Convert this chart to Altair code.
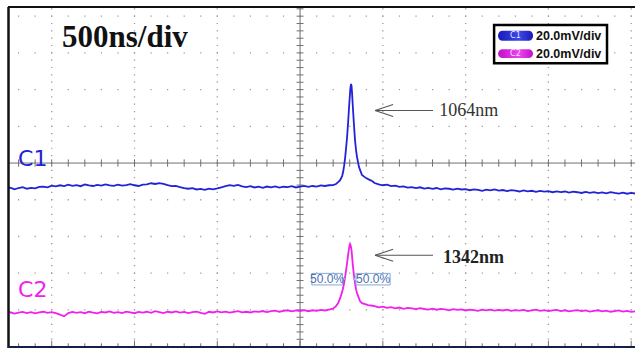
import altair as alt
import pandas as pd
import numpy as np

# ---------------- data (time in ns, signal in mV) ----------------
T_LEFT = list(range(-1775, 200, 25))     # 79 samples
T_RIGHT = list(range(450, 2050, 25))     # 64 samples

c1_left = [-13.9, -13.4, -14.3, -13.6, -13.1, -14.0, -13.5, -13.8, -13.0, -12.8,
           -13.2, -12.3, -12.7, -12.1, -12.6, -11.8, -12.4, -12.0, -12.6, -11.7,
           -12.2, -12.5, -11.9, -12.3, -11.6, -12.2, -12.4, -11.8, -12.3, -12.0,
           -11.5, -12.1, -12.5, -11.8, -11.6, -11.0, -11.4, -10.9, -11.3, -12.0,
           -12.6, -12.4, -13.1, -13.6, -14.0, -13.7, -14.4, -14.1, -14.6, -13.9,
           -14.3, -13.8, -13.2, -12.6, -12.0, -12.4, -11.9, -12.7, -13.1, -12.6,
           -13.3, -12.9, -13.5, -12.8, -13.2, -12.7, -13.4, -12.9, -13.1, -12.6,
           -13.3, -12.8, -12.4, -13.0, -12.5, -12.8, -12.2, -12.5, -12.1]
c1_peak_t = [199, 217, 230, 242, 254, 260, 266, 272, 278, 284, 290, 296, 302, 305, 308,
             311, 314, 320, 326, 332, 338, 344, 350, 356, 365, 374, 387, 399, 417, 435]
c1_peak_v = [-12.0, -11.4, -10.4, -9.3, -7.1, -4.9, -1.6, 2.7, 8.2, 14.2, 21.8, 30.5,
             38.2, 41.4, 43.1, 42.0, 38.2, 28.9, 20.2, 12.5, 7.1, 3.3, 0.5, -2.2, -4.4,
             -6.5, -7.4, -8.2, -9.0, -9.8]
c1_right = [-10.9, -11.6, -12.1, -11.8, -12.6, -12.3, -13.0, -12.7, -13.4, -13.1,
            -13.6, -13.2, -13.9, -13.5, -14.1, -13.6, -14.3, -13.8, -14.0, -14.5,
            -13.9, -14.4, -14.2, -14.8, -14.3, -14.6, -15.1, -14.5, -14.9, -14.4,
            -15.0, -14.7, -15.3, -14.8, -15.0, -15.5, -14.9, -15.4, -15.1, -15.7,
            -15.2, -15.6, -15.3, -15.9, -15.4, -15.8, -15.5, -16.1, -15.6, -15.9,
            -16.3, -15.7, -16.2, -15.8, -16.4, -16.0, -16.5, -15.9, -16.3, -16.6,
            -16.1, -16.7, -16.3, -16.6]

c2_left = [-12.6, -12.1, -12.8, -12.3, -11.9, -12.5, -12.0, -12.7, -12.2, -11.8,
           -12.4, -12.0, -12.6, -13.4, -14.3, -12.5, -11.9, -12.4, -12.0, -12.6,
           -11.8, -12.3, -12.7, -11.9, -12.2, -11.6, -12.4, -12.0, -12.5, -11.7,
           -12.1, -12.6, -11.9, -12.3, -11.8, -12.4, -11.5, -12.0, -12.5, -11.8,
           -12.2, -11.6, -12.3, -11.9, -12.5, -12.0, -11.7, -12.4, -12.9, -11.8,
           -12.2, -11.6, -12.1, -11.7, -12.3, -11.9, -11.5, -12.1, -11.8, -12.2,
           -11.6, -11.9, -11.4, -12.0, -11.5, -11.2, -11.8, -11.3, -11.0, -11.6,
           -11.1, -11.4, -10.9, -11.5, -11.0, -11.3, -10.8, -11.1, -10.6]
c2_peak_t = [199, 217, 230, 242, 254, 260, 266, 272, 278, 284, 290, 296, 299, 302, 305,
             311, 314, 320, 326, 332, 338, 344, 353, 362, 374, 393, 411, 429]
c2_peak_v = [-10.1, -8.7, -7.1, -4.4, -1.1, 1.1, 3.8, 7.1, 10.9, 14.7, 19.1, 22.9, 24.3,
             25.1, 24.5, 21.8, 18.5, 12.5, 7.6, 3.8, 0.5, -1.6, -3.8, -6.0, -7.1, -7.6,
             -8.2, -8.4]
c2_right = [-8.7, -9.4, -9.0, -9.7, -9.3, -9.9, -9.5, -10.2, -9.7, -10.0,
            -10.4, -9.8, -10.3, -10.6, -10.1, -10.7, -10.2, -10.5, -11.0, -10.4,
            -10.8, -10.5, -11.1, -10.6, -10.9, -11.3, -10.7, -11.0, -10.6, -11.2,
            -10.8, -11.1, -10.7, -11.3, -10.9, -11.2, -10.8, -11.4, -11.0, -10.7,
            -11.3, -10.9, -11.5, -11.1, -10.8, -11.4, -11.0, -11.6, -11.2, -10.9,
            -11.5, -11.1, -11.7, -11.3, -11.0, -11.6, -11.2, -11.8, -11.4, -11.1,
            -11.7, -11.3, -11.9, -11.6]

channels = ["C1", "C2"]
channel_colors = ["#2222d6", "#f020ee"]
label_colors = ["#3a2fd2", "#d0229a"]
channel_offset_div = [0.0, -3.46]       # ground-marker positions (divisions)
mv_per_div = 20.0

# ---------------- build tables ----------------
def channel_df(name, left, pt, pv, right, off):
    t = T_LEFT + pt + T_RIGHT
    v = left + pv + right
    assert len(t) == len(v), (name, len(t), len(v))
    return pd.DataFrame({"t": t, "mV": v, "ch": name, "off": off, "order": range(len(t))})

traces = pd.concat([
    channel_df("C1", c1_left, c1_peak_t, c1_peak_v, c1_right, channel_offset_div[0]),
    channel_df("C2", c2_left, c2_peak_t, c2_peak_v, c2_right, channel_offset_div[1]),
])

W, H = 627, 340
xs = alt.Scale(domain=[-1764, 2023], nice=False, zero=False)
ys = alt.Scale(domain=[-5.01, 4.25], nice=False, zero=False)

def X(f="t:Q"):
    return alt.X(f, scale=xs, axis=None)

def Y(f="y:Q"):
    return alt.Y(f, scale=ys, axis=None)

# grid
vgrid = pd.DataFrame({"t": [-1500, -1000, -500, 500, 1000, 1500, 2000]})
hgrid = pd.DataFrame({"y": [4, 3, 2, 1, -1, -2, -3, -4]})
grid_v = alt.Chart(vgrid).mark_rule(color="#999999", strokeWidth=1.3, strokeDash=[1.2, 6.14],
                                    strokeDashOffset=6.14).encode(
    x=X(), y=alt.value(0), y2=alt.value(H))
grid_h = alt.Chart(hgrid).mark_rule(color="#999999", strokeWidth=1.3, strokeDash=[1.2, 15.36],
                                    strokeDashOffset=6.56).encode(
    y=Y(), x=alt.value(0), x2=alt.value(W))

# centre axes
axis_col = "#707070"
cx = alt.Chart(pd.DataFrame({"y": [0]})).mark_rule(color=axis_col).encode(
    y=Y(), x=alt.value(0), x2=alt.value(W))
cy = alt.Chart(pd.DataFrame({"t": [0]})).mark_rule(color=axis_col).encode(
    x=X(), y=alt.value(0), y2=alt.value(H))

xt = [v for v in range(-1700, 2100, 100) if v != 0]
yt = [round(v, 1) for v in np.arange(-5.0, 4.3, 0.2) if abs(v) > 1e-6]
xticks = pd.DataFrame({"t": xt, "y1": -0.1, "y2": 0.1})
yticks = pd.DataFrame({"y": yt, "t1": -21, "t2": 21})
xtick_l = alt.Chart(xticks).mark_rule(color=axis_col).encode(x=X(), y=Y("y1:Q"), y2="y2:Q")
ytick_l = alt.Chart(yticks).mark_rule(color=axis_col).encode(y=Y(), x=X("t1:Q"), x2="t2:Q")

bt = pd.DataFrame({"t": list(range(-1700, 2100, 100))})
bt["top"] = np.where(bt["t"] % 500 == 0, -4.84, -4.91)
bt["bot"] = -5.01
btick_l = alt.Chart(bt).mark_rule(color=axis_col).encode(x=X(), y=Y("top:Q"), y2="bot:Q")

# traces
trace_l = alt.Chart(traces).transform_calculate(
    y="datum.mV / %f + datum.off" % mv_per_div
).mark_line(strokeWidth=1.8, clip=True).encode(
    x=X(), y=Y(),
    color=alt.Color("ch:N", scale=alt.Scale(domain=channels, range=channel_colors), legend=None),
    detail="ch:N", order="order:Q")

# channel labels
lab = pd.DataFrame({"t": [-1703, -1703], "y": [-0.08, -3.65], "txt": channels})
lab_l = alt.Chart(lab).mark_text(font="DejaVu Sans", fontSize=22, align="left",
                                 baseline="alphabetic").encode(
    x=X(), y=Y(), text="txt:N",
    color=alt.Color("txt:N", scale=alt.Scale(domain=channels, range=label_colors), legend=None))

# time base label
tb = alt.Chart(pd.DataFrame({"t": [-1438], "y": [3.16], "txt": ["500ns/div"]})).mark_text(
    font="Liberation Serif", fontSize=31, fontWeight="bold", align="left",
    baseline="alphabetic", color="#111"
).encode(x=X(), y=Y(), text="txt:N")

# wavelength annotations
ann = pd.DataFrame({"tip": [453, 453], "tail": [803, 803], "y": [1.43, -2.51],
                    "armt": [562, 562], "up": [1.593, -2.347], "dn": [1.267, -2.673]})
shaft = alt.Chart(ann).mark_rule(color="#555", strokeWidth=1.1).encode(
    x=X("tip:Q"), x2="tail:Q", y=Y())
arm1 = alt.Chart(ann).mark_rule(color="#555", strokeWidth=1.1).encode(
    x=X("tip:Q"), x2="armt:Q", y=Y(), y2="up:Q")
arm2 = alt.Chart(ann).mark_rule(color="#555", strokeWidth=1.1).encode(
    x=X("tip:Q"), x2="armt:Q", y=Y(), y2="dn:Q")
w1 = alt.Chart(pd.DataFrame({"t": [840], "y": [1.28], "txt": ["1064nm"]})).mark_text(
    font="Liberation Serif", fontSize=18, align="left", baseline="alphabetic", color="#333"
).encode(x=X(), y=Y(), text="txt:N")
w2 = alt.Chart(pd.DataFrame({"t": [864], "y": [-2.72], "txt": ["1342nm"]})).mark_text(
    font="Liberation Serif", fontSize=18, fontWeight="bold", align="left",
    baseline="alphabetic", color="#222"
).encode(x=X(), y=Y(), text="txt:N")

# 50% markers
pct = pd.DataFrame({"t1": [71, 338], "t2": [256, 544], "y1": [-3.005, -3.005],
                    "y2": [-3.32, -3.32], "tc": [163, 441], "yc": [-3.16, -3.16],
                    "tp": [256, 338], "txt": ["50.0%", "50.0%"],
                    "shape": ["triangle-right", "triangle-left"]})
pct_box = alt.Chart(pct).mark_rect(fill="white", stroke="#86a8d6", strokeWidth=1).encode(
    x=X("t1:Q"), x2="t2:Q", y=Y("y1:Q"), y2="y2:Q")
pct_tip = alt.Chart(pct).mark_point(filled=True, size=45, color="white", stroke="#86a8d6",
                                    strokeWidth=1, opacity=1).encode(
    x=X("tp:Q"), y=Y("yc:Q"),
    shape=alt.Shape("shape:N", scale=None, legend=None))
pct_txt = alt.Chart(pct).mark_text(font="Liberation Sans", fontSize=12, color="#4a6fb0",
                                   baseline="middle").encode(
    x=X("tc:Q"), y=Y("yc:Q"), text="txt:N")

# scale legend box
box = alt.Chart(pd.DataFrame({"t1": [1172], "t2": [1854], "y1": [3.76], "y2": [2.72]})).mark_rect(
    fill="white", stroke="black", strokeWidth=2.5).encode(
    x=X("t1:Q"), x2="t2:Q", y=Y("y1:Q"), y2="y2:Q")
pills = pd.DataFrame({"ch": channels, "t1": [1196, 1196], "t2": [1407, 1407],
                      "y1": [3.60, 3.10], "y2": [3.33, 2.86], "tc": [1301, 1301],
                      "yc": [3.465, 2.98], "tx": [1425, 1425],
                      "scale": ["20.0mV/div", "20.0mV/div"]})
grad1 = alt.Gradient(gradient="linear", x1=0, x2=1, y1=0, y2=0,
                     stops=[alt.GradientStop(color="#1a1ab8", offset=0),
                            alt.GradientStop(color="#3a48e8", offset=0.6),
                            alt.GradientStop(color="#1a1ab8", offset=1)])
grad2 = alt.Gradient(gradient="linear", x1=0, x2=1, y1=0, y2=0,
                     stops=[alt.GradientStop(color="#c010c8", offset=0),
                            alt.GradientStop(color="#f040f0", offset=0.6),
                            alt.GradientStop(color="#c010c8", offset=1)])
pill1 = alt.Chart(pills[pills.ch == "C1"]).mark_rect(fill=grad1, cornerRadius=4.5).encode(
    x=X("t1:Q"), x2="t2:Q", y=Y("y1:Q"), y2="y2:Q")
pill2 = alt.Chart(pills[pills.ch == "C2"]).mark_rect(fill=grad2, cornerRadius=4.5).encode(
    x=X("t1:Q"), x2="t2:Q", y=Y("y1:Q"), y2="y2:Q")
pill_txt = alt.Chart(pills).mark_text(font="DejaVu Sans", fontSize=8, color="#e8e8ff",
                                      baseline="middle").encode(
    x=X("tc:Q"), y=Y("yc:Q"), text="ch:N")
scale_txt = alt.Chart(pills).mark_text(font="Liberation Sans", fontSize=12.5, fontWeight="bold",
                                       color="#111", align="left", baseline="middle").encode(
    x=X("tx:Q"), y=Y("yc:Q"), text="scale:N")

# frame
frame_top = alt.Chart(pd.DataFrame({"k": [0]})).mark_rule(color="#111", strokeWidth=2).encode(
    y=alt.value(0), x=alt.value(0), x2=alt.value(W))
frame_left = alt.Chart(pd.DataFrame({"k": [0]})).mark_rule(color="#111", strokeWidth=2.5).encode(
    x=alt.value(0.5), y=alt.value(0), y2=alt.value(H + 1))
frame_bot = alt.Chart(pd.DataFrame({"k": [0]})).mark_rule(color="#14204a", strokeWidth=2).encode(
    y=alt.value(H), x=alt.value(0), x2=alt.value(W))

chart = alt.layer(
    grid_v, grid_h, cx, cy, xtick_l, ytick_l, btick_l,
    trace_l, lab_l, tb, shaft, arm1, arm2, w1, w2, pct_tip, pct_box, pct_txt,
    box, pill1, pill2, pill_txt, scale_txt,
    frame_top, frame_left, frame_bot,
).properties(
    width=W, height=H, autosize="none",
    padding={"left": 8, "top": 7, "right": 0, "bottom": 2},
    background="white",
).configure_view(stroke=None)

chart.save("out.html", embed_options={"renderer": "svg", "actions": False})
